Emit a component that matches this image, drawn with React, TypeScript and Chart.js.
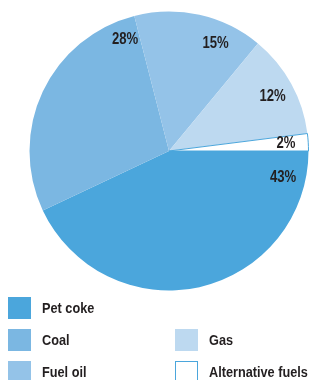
import React, { useEffect, useRef } from "react";
import { Chart, registerables } from "chart.js";

Chart.register(...registerables);

const categories = ["Pet coke", "Coal", "Fuel oil", "Gas", "Alternative fuels"];
const shares = [43, 28, 15, 12, 2];
const valueLabels = ["43%", "28%", "15%", "12%", "2%"];
const colors = ["#4ba6dc", "#7bb7e2", "#94c3e8", "#bdd9f0", "#ffffff"];
const borderColors = ["#4ba6dc", "#7bb7e2", "#94c3e8", "#bdd9f0", "#4ba6dc"];

const FONT = "'Liberation Sans', Arial, sans-serif";
const NARROW = 0.82;

const labelPlugin = {
  id: "sliceLabels",
  afterDatasetsDraw(chart: any, _args: any, opts: any) {
    const ctx = chart.ctx;
    const meta = chart.getDatasetMeta(0);
    const fractions: number[] = opts.angleFractions || [];
    const radial: number[] = opts.radial || [];
    ctx.save();
    ctx.font = `bold 16px ${FONT}`;
    ctx.fillStyle = "#231f20";
    ctx.textAlign = "center";
    ctx.textBaseline = "middle";
    meta.data.forEach((arc: any, i: number) => {
      const { x, y, startAngle, endAngle, outerRadius } = arc.getProps(
        ["x", "y", "startAngle", "endAngle", "outerRadius"],
        true
      );
      const f = fractions[i] ?? 0.5;
      const a = startAngle + (endAngle - startAngle) * f;
      const r = outerRadius * (radial[i] ?? 0.84);
      const px = x + Math.cos(a) * r;
      const py = y + Math.sin(a) * r;
      ctx.save();
      ctx.translate(px, py);
      ctx.scale(NARROW, 1);
      ctx.fillText(valueLabels[i], 0, 0);
      ctx.restore();
    });
    ctx.restore();
  },
};

export default function App() {
  const canvasRef = useRef<HTMLCanvasElement | null>(null);

  useEffect(() => {
    if (!canvasRef.current) return;
    const chart = new Chart(canvasRef.current, {
      type: "pie",
      data: {
        labels: categories,
        datasets: [
          {
            data: shares,
            backgroundColor: colors,
            borderColor: borderColors,
            borderWidth: [0, 0, 0, 0, 1],
          },
        ],
      },
      options: {
        animation: false,
        responsive: false,
        rotation: 90,
        layout: { padding: { left: 29, right: 1, top: 11, bottom: 9 } },
        plugins: {
          legend: { display: false },
          tooltip: { enabled: false },
          sliceLabels: {
            angleFractions: [0.085, 0.93, 0.7, 0.52, 0.5],
            radial: [0.84, 0.86, 0.84, 0.84, 0.84],
          },
        } as any,
      },
      plugins: [labelPlugin],
    });
    return () => chart.destroy();
  }, []);

  const legendPos = (i: number) =>
    i < 3 ? { gridColumn: 1, gridRow: i + 1 } : { gridColumn: 2, gridRow: i - 1 };

  return (
    <div
      style={{
        position: "absolute",
        left: 0,
        top: 0,
        width: 310,
        height: 380,
        background: "#ffffff",
        overflow: "hidden",
      }}
    >
      <canvas ref={canvasRef} width={310} height={300} style={{ display: "block" }} />
      <div
        style={{
          position: "absolute",
          left: 8,
          top: 297,
          display: "grid",
          gridTemplateColumns: "167px 130px",
          gridAutoRows: "32px",
          fontFamily: FONT,
          fontWeight: "bold",
          fontSize: 15.5,
          color: "#231f20",
        }}
      >
        {categories.map((c, i) => (
          <div key={c} style={{ ...legendPos(i), display: "flex", alignItems: "flex-start" }}>
            <div
              style={{
                width: 23,
                height: 22,
                boxSizing: "border-box",
                background: colors[i],
                border: `1px solid ${borderColors[i]}`,
                flex: "none",
              }}
            />
            <div
              style={{
                marginLeft: 11,
                lineHeight: "22px",
                whiteSpace: "nowrap",
                transform: `scaleX(${NARROW})`,
                transformOrigin: "left center",
              }}
            >
              {c}
            </div>
          </div>
        ))}
      </div>
    </div>
  );
}
